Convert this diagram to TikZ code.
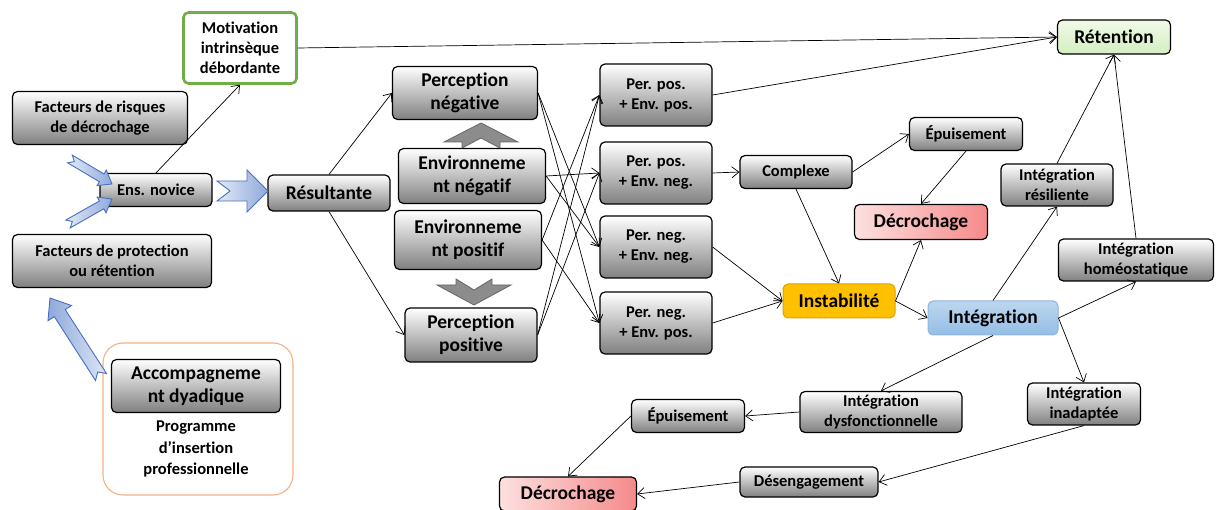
\documentclass[tikz,border=0pt]{standalone}
\usepackage{fontspec}
\setmainfont[Ligatures=NoCommon]{Carlito}
\usepackage{tikz}
\usetikzlibrary{arrows.meta, calc}
\definecolor{motivgreen}{HTML}{70AD47}
\definecolor{progorange}{HTML}{F4B183}
\definecolor{instabfill}{HTML}{FFC000}
\definecolor{instabline}{HTML}{D9A300}
\definecolor{integtop}{HTML}{BDD7EE}
\definecolor{integbot}{HTML}{95BDE6}
\definecolor{integline}{HTML}{8DB4E2}
\definecolor{decroleft}{HTML}{FDE0E0}
\definecolor{decroright}{HTML}{F58A8A}
\definecolor{retentop}{HTML}{F0FAE8}
\definecolor{retenbot}{HTML}{D3EEC0}
\definecolor{arrowblue}{HTML}{4A6FC0}
\definecolor{arrowfill}{HTML}{8EA9DB}
\newcommand{\smallfont}{\bfseries\fontsize{16.5}{20}\selectfont}
\newcommand{\bigfont}{\bfseries\fontsize{19.5}{23}\selectfont}
% notched block arrow: style, tail, tip, half shaft, half head, head length, notch
\newcommand{\fatarrow}[7]{%
  \path[#1] ($(#2)!#4pt!90:(#3)$)
    -- ($(#3)!#6pt!(#2)!#4pt!90:(#3)$)
    -- ($(#3)!#6pt!(#2)!#5pt!90:(#3)$)
    -- (#3)
    -- ($(#3)!#6pt!(#2)!#5pt!-90:(#3)$)
    -- ($(#3)!#6pt!(#2)!#4pt!-90:(#3)$)
    -- ($(#2)!#4pt!-90:(#3)$)
    -- ($(#2)!#7pt!(#3)$) -- cycle;}
\tikzset{>={Straight Barb[length=7pt,width=11pt]}}
\tikzset{card/.style={draw, line width=1.2pt, rounded corners=5pt, align=center,
    inner sep=0pt, font=\smallfont},
  box/.style={card, top color=white, bottom color=black!50},
  bigbox/.style={box, font=\bigfont},
  motivbox/.style={card, draw=motivgreen, line width=2.6pt, fill=white},
  progbox/.style={draw=progorange, line width=1.1pt, rounded corners=20pt, fill=white},
  decrobox/.style={card, font=\bigfont, left color=decroleft, right color=decroright},
  link/.style={->, line width=0.7pt},
  bluearrow/.style={draw=arrowblue, line width=0.9pt, left color=arrowfill!25!white,
    right color=arrowfill},
  grayarrow/.style={draw=black!60, line width=0.8pt, fill=black!45}}

\begin{document}
\begin{tikzpicture}[x=1pt, y=-1pt]
\useasboundingbox (0,0) rectangle (1216,510);

% left side
\node[motivbox, minimum width=113, minimum height=71] (motiv) at (240,48)
  {Motivation\\intrinsèque\\débordante};
\node[box, minimum width=175, minimum height=53] (risques) at (100,118)
  {Facteurs de risques\\de décrochage};
\node[box, minimum width=112, minimum height=33] (novice) at (156,190) {Ens. novice};
\node[box, minimum width=199, minimum height=53] (protect) at (112,261)
  {Facteurs de protection\\ou rétention};
\node[progbox, minimum width=190, minimum height=152] (prog) at (198,419) {};
\node[bigbox, minimum width=169, minimum height=53] (accomp) at (196,386)
  {Accompagneme\\nt dyadique};
\node[align=center, font=\bfseries\fontsize{16.5}{21.5}\selectfont] (progtext) at (196,449)
  {Programme\\d’insertion\\professionnelle};

% middle
\node[bigbox, minimum width=122, minimum height=36] (result) at (329,193) {Résultante};
\node[bigbox, minimum width=145, minimum height=53] (percneg) at (465,93) {Perception\\négative};
\node[bigbox, minimum width=147, minimum height=55] (envneg) at (472,176) {Environneme\\nt négatif};
\node[bigbox, minimum width=147, minimum height=59] (envpos) at (468,240) {Environneme\\nt positif};
\node[bigbox, minimum width=132, minimum height=54] (percpos) at (471,335) {Perception\\positive};

\node[box, minimum width=112, minimum height=62] (ppep) at (656,95) {Per. pos.\\+ Env. pos.};
\node[box, minimum width=112, minimum height=62] (ppen) at (656,173) {Per. pos.\\+ Env. neg.};
\node[box, minimum width=112, minimum height=62] (pnen) at (656,247) {Per. neg.\\+ Env. neg.};
\node[box, minimum width=112, minimum height=62] (pnep) at (656,323) {Per. neg.\\+ Env. pos.};

% right side
\node[box, minimum width=112, minimum height=33] (complexe) at (796,172) {Complexe};
\node[box, minimum width=113, minimum height=33] (epuis1) at (966,134) {Épuisement};
\node[decrobox, minimum width=133, minimum height=35] (decro1) at (921,222) {Décrochage};
\node[card, font=\bigfont, fill=instabfill, draw=instabline, line width=1pt,
  minimum width=112, minimum height=34] (instab) at (839,301) {Instabilité};
\node[card, font=\bigfont, top color=integtop, bottom color=integbot, draw=integline,
  line width=1pt, minimum width=130, minimum height=34] (integ) at (993,318) {Intégration};
\node[box, minimum width=112, minimum height=42] (resil) at (1057,185) {Intégration\\résiliente};
\node[box, minimum width=155, minimum height=42] (homeo) at (1136,260) {Intégration\\homéostatique};
\node[card, font=\bigfont, top color=retentop, bottom color=retenbot,
  minimum width=113, minimum height=34] (retention) at (1114,37) {Rétention};
\node[box, minimum width=113, minimum height=42] (inadap) at (1084,404) {Intégration\\inadaptée};
\node[box, minimum width=162, minimum height=41] (dysf) at (881,412) {Intégration\\dysfonctionnelle};
\node[box, minimum width=113, minimum height=33] (epuis2) at (688,416) {Épuisement};
\node[box, minimum width=138, minimum height=30] (deseng) at (809,482) {Désengagement};
\node[decrobox, minimum width=137, minimum height=34] (decro2) at (568,494) {Décrochage};

% block arrows
\fatarrow{bluearrow}{217,191}{268,191}{10}{21}{21}{13}
\fatarrow{bluearrow}{70,159}{112,184}{4.5}{9}{12}{5}
\fatarrow{bluearrow}{68,224}{112,199}{4.5}{9}{12}{5}
\fatarrow{bluearrow, left color=arrowfill, right color=arrowfill!30!white}{101,377}{50,298}{6.5}{14}{18}{6}
\fatarrow{grayarrow}{481,148}{481,123}{19}{37}{19}{10}
\fatarrow{grayarrow}{474,279}{474,305}{18}{37}{20}{11}

% links
\draw[link] (novice.north) -- (motiv.south);
\draw[link] (motiv.east) -- (retention.west);
\draw[link] (ppep.east) -- (retention.west);
\draw[link] (result.north) -- (percneg.west);
\draw[link] (result.south) -- (percpos.west);
\draw[link] (percneg.east) -- (pnen.west);
\draw[link] (percneg.east) -- (pnep.west);
\draw[link] (envneg.east) -- (ppen.west);
\draw[link] (envneg.east) -- (pnen.west);
\draw[link] (envpos.east) -- (ppep.west);
\draw[link] (envpos.east) -- (pnep.west);
\draw[link] (percpos.east) -- (ppep.west);
\draw[link] (percpos.east) -- (ppen.west);
\draw[link] (ppen.east) -- (complexe.west);
\draw[link] (complexe.east) -- (epuis1.west);
\draw[link] (complexe.south) -- (instab.north);
\draw[link] (epuis1.south) -- (decro1.north);
\draw[link] (pnen.east) -- (instab.west);
\draw[link] (pnep.east) -- (instab.west);
\draw[link] (instab.east) -- (decro1.south);
\draw[link] (instab.east) -- (integ.west);
\draw[link] (integ.north) -- (resil.south);
\draw[link] (integ.east) -- (homeo.south);
\draw[link] (integ.east) -- (inadap.north);
\draw[link] (integ.south) -- (dysf.north);
\draw[link] (resil.north) -- (retention.south);
\draw[link] (homeo.north) -- (retention.south);
\draw[link] (inadap.south) -- (deseng.east);
\draw[link] (dysf.west) -- (epuis2.east);
\draw[link] (epuis2.west) -- (decro2.north);
\draw[link] (deseng.west) -- (decro2.east);
\end{tikzpicture}
\end{document}
